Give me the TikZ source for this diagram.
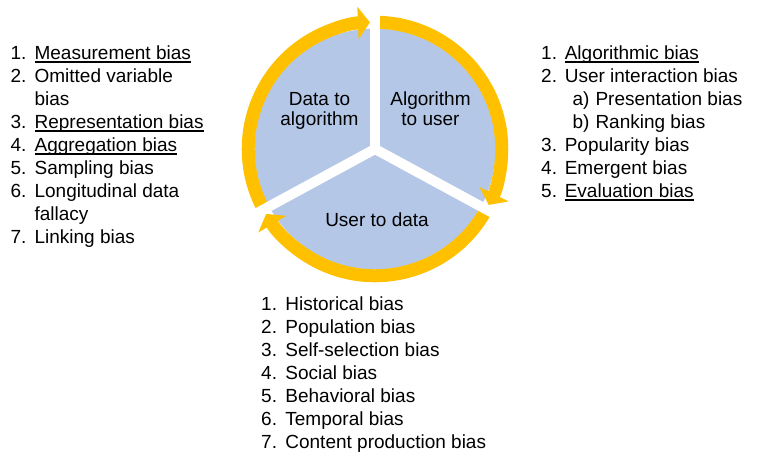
\documentclass[tikz,border=0pt]{standalone}
\usepackage{fontspec}
\setmainfont{Liberation Sans}
\usetikzlibrary{arrows.meta}
\definecolor{cycblue}{HTML}{B4C7E7}
\definecolor{cycgold}{HTML}{FFC000}
\newcommand{\myul}[1]{\setbox0=\hbox{#1}\rlap{\rule[-3.4pt]{\wd0}{1.3pt}}\box0}
\begin{document}
\begin{tikzpicture}[x=1pt,y=1pt,
  txt/.style={inner sep=0pt, outer sep=0pt, anchor=base west, font=\fontsize{19}{23}\selectfont},
  lbl/.style={inner sep=0pt, outer sep=0pt, anchor=base, align=center, font=\fontsize{19}{20}\selectfont},
  ring/.style={cycgold, line width=13pt, -{Triangle[width=32pt,length=12pt]}},
  gapline/.style={white, line width=10pt}]
\useasboundingbox (0,0) rectangle (760,459);
\coordinate (c) at (375,310);
% disc
\fill[cycblue] (c) circle[radius=120.5];
% cycle arrows
\draw[ring] ([shift={(208.5:126.75)}]c) arc[start angle=208.5, end angle=92.3, radius=126.75];
\draw[ring] ([shift={(90:126.75)}]c) arc[start angle=90, end angle=-26.2, radius=126.75];
\draw[ring] ([shift={(-28.5:126.75)}]c) arc[start angle=-28.5, end angle=-149.2, radius=126.75];
% gaps
\draw[gapline] ([shift={(270:3)}]c) -- ([shift={(90:142)}]c);
\draw[gapline] ([shift={(151.5:3)}]c) -- ([shift={(-28.5:142)}]c);
\draw[gapline] ([shift={(28.5:3)}]c) -- ([shift={(208.5:142)}]c);
% sector labels (base = baseline of last line)
\node[lbl] (sDA) at (319.5,333.7) {Data to\\algorithm};
\node[lbl] (sAU) at (430.5,333.7) {Algorithm\\to user};
\node[lbl] (sUD) at (377,232.3) {User to data};
% left list
\node[txt] (l1n) at (10.6,399.7) {1.};
\node[txt] (l1) at (34.6,399.7) {\myul{Measurement bias}};
\node[txt] (l2n) at (10.6,376.7) {2.};
\node[txt] (l2) at (34.6,376.7) {Omitted variable};
\node[txt] (l2b) at (34.6,353.7) {bias};
\node[txt] (l3n) at (10.6,330.7) {3.};
\node[txt] (l3) at (34.6,330.7) {\myul{Representation bias}};
\node[txt] (l4n) at (10.6,307.7) {4.};
\node[txt] (l4) at (34.6,307.7) {\myul{Aggregation bias}};
\node[txt] (l5n) at (10.6,284.7) {5.};
\node[txt] (l5) at (34.6,284.7) {Sampling bias};
\node[txt] (l6n) at (10.6,261.7) {6.};
\node[txt] (l6) at (34.6,261.7) {Longitudinal data};
\node[txt] (l6b) at (34.6,238.7) {fallacy};
\node[txt] (l7n) at (10.6,215.7) {7.};
\node[txt] (l7) at (34.6,215.7) {Linking bias};
% right list
\node[txt] (r1n) at (541.2,399.7) {1.};
\node[txt] (r1) at (564.8,399.7) {\myul{Algorithmic bias}};
\node[txt] (r2n) at (541.2,376.7) {2.};
\node[txt] (r2) at (564.8,376.7) {User interaction bias};
\node[txt] (r2an) at (572.5,353.7) {a)};
\node[txt] (r2a) at (595.5,353.7) {Presentation bias};
\node[txt] (r2bn) at (572.5,330.7) {b)};
\node[txt] (r2b) at (595.5,330.7) {Ranking bias};
\node[txt] (r3n) at (541.2,307.7) {3.};
\node[txt] (r3) at (564.8,307.7) {Popularity bias};
\node[txt] (r4n) at (541.2,284.7) {4.};
\node[txt] (r4) at (564.8,284.7) {Emergent bias};
\node[txt] (r5n) at (541.2,261.7) {5.};
\node[txt] (r5) at (564.8,261.7) {\myul{Evaluation bias}};
% bottom list
\node[txt] (b1n) at (261.2,148.3) {1.};
\node[txt] (b1) at (285.4,148.3) {Historical bias};
\node[txt] (b2n) at (261.2,125.3) {2.};
\node[txt] (b2) at (285.4,125.3) {Population bias};
\node[txt] (b3n) at (261.2,102.3) {3.};
\node[txt] (b3) at (285.4,102.3) {Self-selection bias};
\node[txt] (b4n) at (261.2,79.3) {4.};
\node[txt] (b4) at (285.4,79.3) {Social bias};
\node[txt] (b5n) at (261.2,56.3) {5.};
\node[txt] (b5) at (285.4,56.3) {Behavioral bias};
\node[txt] (b6n) at (261.2,33.3) {6.};
\node[txt] (b6) at (285.4,33.3) {Temporal bias};
\node[txt] (b7n) at (261.2,10.3) {7.};
\node[txt] (b7) at (285.4,10.3) {Content production bias};
\end{tikzpicture}
\end{document}
